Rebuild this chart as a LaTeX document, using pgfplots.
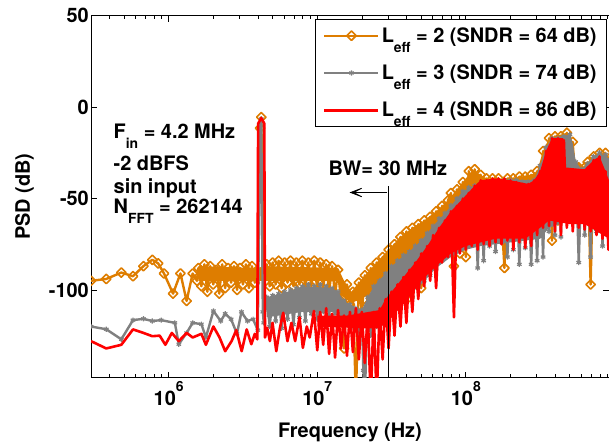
\documentclass[border=0pt]{standalone}
\usepackage{fontspec}
\setmainfont{TeX Gyre Heros}
\usepackage{pgfplots}
\pgfplotsset{compat=1.18}
\usetikzlibrary{arrows.meta}
\definecolor{lor}{RGB}{222,125,0}
\definecolor{lgr}{RGB}{128,128,128}
\newcommand{\fs}{\fontsize{20}{24}\selectfont\bfseries}
\newcommand{\sub}[1]{\raisebox{-0.5em}{\fontsize{14}{14}\selectfont\bfseries #1}}
\newcommand{\ex}[1]{\raisebox{0.7em}{\fontsize{14}{14}\selectfont\bfseries #1}}
\begin{document}
\begin{tikzpicture}
\begin{axis}[
  at={(0,0)}, anchor=south west,
  scale only axis, width=518bp, height=362bp,
  xmode=log, xmin=3.0e5, xmax=9.2e8, ymin=-148, ymax=50,
  clip marker paths=true,
  xtick={1e6,1e7,1e8},
  xticklabels={10\ex{6},10\ex{7},10\ex{8}},
  minor xtick={4e5,5e5,6e5,7e5,8e5,9e5,2e6,3e6,4e6,5e6,6e6,7e6,8e6,9e6,2e7,3e7,4e7,5e7,6e7,7e7,8e7,9e7,2e8,3e8,4e8,5e8,6e8,7e8,8e8,9e8},
  ytick={-100,-50,0,50}, yticklabels={-100,-50,0,50},
  tick align=inside, major tick length=6bp, minor tick length=3.5bp,
  tick style={black, line width=0.8bp},
  axis line style={line width=0.9bp},
  tick label style={font=\fs},
  yticklabel style={inner xsep=2bp},
  xlabel={Frequency (Hz)}, ylabel={PSD (dB)},
  xlabel style={font=\fs, at={(axis description cs:0.5,-0.150)}, anchor=center},
  ylabel style={font=\fs, at={(axis description cs:-0.1284,0.5)}, anchor=center},
  legend style={at={(1,1)}, anchor=north east, xshift=-2bp, yshift=-3.5bp,
    draw=black, line width=0.8bp, font=\fs, inner xsep=8bp, inner ysep=6bp,
    row sep=17bp, cells={anchor=west}},
  legend image code/.code={\draw[mark repeat=2,mark phase=2,#1] plot coordinates {(0bp,0bp) (27bp,0bp) (54bp,0bp)};},
]
% orange body
\addplot[forget plot, fill=lor, draw=none] coordinates {
(1.585e6,-87) (3.981e6,-88) (4.365e6,-87) (1.380e7,-88) (1.514e7,-95) (1.698e7,-101) (1.905e7,-96) (2.089e7,-92) (2.512e7,-85) (3.020e7,-78) (3.631e7,-71) (4.365e7,-66) (5.248e7,-62) (6.310e7,-57) (7.586e7,-51) (8.710e7,-45) (9.550e7,-41) (1.096e8,-35) (1.202e8,-36) (1.380e8,-39) (1.995e8,-39) (2.754e8,-37) (3.020e8,-35) (3.311e8,-24) (3.631e8,-17) (4.786e8,-14) (5.248e8,-19) (5.495e8,-30) (6.310e8,-33) (6.918e8,-28) (7.943e8,-25) (9.2e8,-27)
(9.2e8,-50) (6.918e8,-50) (5.754e8,-50) (5.248e8,-40) (3.631e8,-40) (3.162e8,-50) (1.0e8,-55) (7.943e7,-65) (6.310e7,-72) (5.012e7,-80) (3.981e7,-85) (3.162e7,-92) (2.512e7,-99) (1.995e7,-105) (1.698e7,-107) (1.445e7,-103) (1.380e7,-95) (4.365e6,-95) (3.981e6,-95) (1.585e6,-95)
} -- cycle;
\addplot[color=lor, line width=2.4bp, line join=round, mark=square, mark size=3.3bp,
  mark options={rotate=45, solid, line width=1.6bp, fill=none}] coordinates {
(3.0e5,-95) (3.8e5,-94) (4.8e5,-90.5) (5.75e5,-92.5) (6.76e5,-87) (7.76e5,-83.5) (8.5e5,-85.5) (9.3e5,-91) (1.07e6,-102) (1.2e6,-91) (1.32e6,-106) (1.45e6,-91) (1.55e6,-95)
(1.585e6,-88) (1.660e6,-98) (1.738e6,-86) (1.820e6,-101) (1.905e6,-87) (1.995e6,-97) (2.089e6,-89) (2.188e6,-102) (2.291e6,-86) (2.399e6,-99) (2.512e6,-88) (2.630e6,-96) (2.754e6,-87) (2.884e6,-100) (3.020e6,-88) (3.162e6,-97) (3.311e6,-86) (3.467e6,-99) (3.631e6,-87) (3.802e6,-96) (3.981e6,-90)
(4.12e6,-11.5) (4.2e6,-5.5) (4.365e6,-92)
(4.571e6,-86) (4.786e6,-98) (5.012e6,-85) (5.248e6,-97) (5.495e6,-84) (5.754e6,-99) (6.026e6,-85) (6.310e6,-96) (6.607e6,-84) (6.918e6,-98) (7.244e6,-85) (7.586e6,-97) (7.943e6,-84) (8.318e6,-99) (8.710e6,-85) (9.120e6,-98) (9.550e6,-84)
(1.0e7,-100) (1.047e7,-85) (1.096e7,-99) (1.148e7,-86) (1.202e7,-101) (1.259e7,-87) (1.318e7,-103) (1.380e7,-89) (1.445e7,-106) (1.514e7,-132) (1.585e7,-97) (1.660e7,-108) (1.738e7,-101) (1.820e7,-160) (1.905e7,-96) (1.995e7,-112) (2.089e7,-92) (2.188e7,-108) (2.291e7,-88) (2.399e7,-104) (2.512e7,-85) (2.630e7,-100) (2.754e7,-82) (2.884e7,-98) (3.020e7,-78) (3.162e7,-95) (3.311e7,-75) (3.467e7,-92) (3.631e7,-71) (3.802e7,-88) (3.981e7,-68) (4.169e7,-104) (4.365e7,-66) (4.571e7,-85) (4.786e7,-64) (5.012e7,-99) (5.248e7,-62) (5.495e7,-80) (5.754e7,-60) (6.026e7,-78) (6.310e7,-57) (6.607e7,-75) (6.918e7,-54) (7.244e7,-72) (7.586e7,-51) (7.943e7,-47) (8.318e7,-87) (8.710e7,-45) (9.120e7,-80) (9.550e7,-41)
(1.0e8,-82) (1.047e8,-35) (1.096e8,-62) (1.148e8,-34) (1.202e8,-60) (1.259e8,-37) (1.318e8,-58) (1.380e8,-39) (1.445e8,-60) (1.514e8,-39) (1.585e8,-58) (1.660e8,-39) (1.738e8,-60) (1.820e8,-88) (1.905e8,-39) (1.995e8,-60) (2.089e8,-39) (2.188e8,-62) (2.291e8,-38) (2.399e8,-60) (2.512e8,-38) (2.630e8,-62) (2.754e8,-37) (2.884e8,-60) (3.020e8,-35) (3.162e8,-55) (3.311e8,-24) (3.467e8,-50) (3.631e8,-17) (3.802e8,-73) (3.981e8,-16) (4.169e8,-62) (4.365e8,-16) (4.571e8,-40) (4.786e8,-14) (5.012e8,-40) (5.248e8,-19) (5.495e8,-55) (5.754e8,-33) (6.026e8,-60) (6.310e8,-33) (6.607e8,-30) (6.918e8,-97) (7.244e8,-27) (7.586e8,-55) (7.943e8,-25) (8.318e8,-55) (8.710e8,-25) (9.120e8,-58) (9.550e8,-28)
};
\addlegendentry{L\sub{eff} = 2 (SNDR = 64 dB)}
% gray body
\addplot[forget plot, fill=lgr, draw=none] coordinates {
(4.571e6,-104) (6.310e6,-101) (7.943e6,-98) (1.259e7,-99) (1.380e7,-101) (1.514e7,-106) (1.660e7,-108) (1.995e7,-111) (2.188e7,-104) (2.399e7,-98) (2.884e7,-91) (3.467e7,-84) (4.169e7,-79) (5.012e7,-73) (6.026e7,-65) (7.244e7,-58) (8.710e7,-50) (9.550e7,-46) (1.148e8,-43) (1.380e8,-41) (1.995e8,-40) (2.884e8,-40) (3.162e8,-32) (3.467e8,-22) (3.802e8,-17) (5.012e8,-15) (5.248e8,-20) (5.495e8,-30) (6.026e8,-34) (7.244e8,-27) (7.943e8,-25) (9.2e8,-28)
(9.2e8,-65) (5.012e8,-62) (3.631e8,-66) (3.162e8,-72) (1.259e8,-76) (1.0e8,-78) (7.943e7,-82) (6.310e7,-88) (5.012e7,-97) (3.981e7,-104) (3.162e7,-112) (2.512e7,-117) (1.995e7,-119) (1.585e7,-115) (1.259e7,-112) (7.943e6,-112) (4.571e6,-115)
} -- cycle;
\addplot[color=lgr, line width=2.4bp, line join=round, mark=asterisk, mark size=2.6bp,
  mark options={solid, line width=1.2bp}] coordinates {
(3.0e5,-120) (3.8e5,-121.5) (4.8e5,-127) (5.75e5,-116.5) (6.76e5,-115.8) (7.76e5,-117) (8.9e5,-116.5) (1.1e6,-118) (1.17e6,-129.7) (1.32e6,-123.5) (1.45e6,-118) (1.66e6,-118.7) (1.78e6,-126) (2.0e6,-111.5) (2.24e6,-117) (2.4e6,-113) (2.63e6,-116) (2.88e6,-124) (3.09e6,-112) (3.39e6,-117) (3.7e6,-116) (3.98e6,-122)
(4.12e6,-10) (4.2e6,-6.5) (4.3e6,-112)
(4.365e6,-118) (4.571e6,-104) (4.786e6,-120) (5.012e6,-103) (5.248e6,-117) (5.495e6,-102) (5.754e6,-121) (6.026e6,-101) (6.310e6,-116) (6.607e6,-100) (6.918e6,-119) (7.244e6,-99) (7.586e6,-115) (7.943e6,-98) (8.318e6,-117) (8.710e6,-97) (9.120e6,-113) (9.550e6,-98)
(1.0e7,-116) (1.047e7,-97) (1.096e7,-112) (1.148e7,-98) (1.202e7,-114) (1.259e7,-99) (1.318e7,-113) (1.380e7,-101) (1.445e7,-115) (1.514e7,-106) (1.585e7,-118) (1.660e7,-108) (1.738e7,-120) (1.820e7,-110) (1.905e7,-125) (1.995e7,-111) (2.042e7,-144) (2.089e7,-160) (2.188e7,-104) (2.291e7,-125) (2.399e7,-98) (2.512e7,-120) (2.630e7,-95) (2.754e7,-118) (2.884e7,-91) (3.020e7,-121) (3.162e7,-87) (3.311e7,-112) (3.467e7,-84) (3.631e7,-110) (3.802e7,-81) (3.981e7,-100) (4.169e7,-79) (4.365e7,-104) (4.571e7,-76) (4.786e7,-98) (5.012e7,-73) (5.248e7,-95) (5.495e7,-69) (5.754e7,-92) (6.026e7,-65) (6.310e7,-88) (6.607e7,-61) (6.918e7,-84) (7.244e7,-58) (7.586e7,-80) (7.943e7,-54) (8.318e7,-78) (8.710e7,-50) (9.120e7,-75) (9.550e7,-46)
(1.0e8,-72) (1.047e8,-44) (1.096e8,-75) (1.148e8,-43) (1.202e8,-88) (1.259e8,-42) (1.318e8,-84) (1.380e8,-41) (1.445e8,-76) (1.514e8,-41) (1.585e8,-79) (1.660e8,-41) (1.738e8,-74) (1.820e8,-40) (1.905e8,-82) (1.995e8,-40) (2.089e8,-78) (2.188e8,-40) (2.291e8,-86) (2.399e8,-41) (2.512e8,-77) (2.630e8,-41) (2.754e8,-86) (2.884e8,-40) (3.020e8,-84) (3.162e8,-32) (3.311e8,-82) (3.467e8,-22) (3.631e8,-68) (3.802e8,-17) (3.981e8,-70) (4.169e8,-17) (4.365e8,-71) (4.571e8,-16) (4.786e8,-60) (5.012e8,-15) (5.248e8,-62) (5.495e8,-30) (5.754e8,-85) (6.026e8,-34) (6.310e8,-70) (6.607e8,-31) (6.918e8,-82) (7.244e8,-27) (7.586e8,-68) (7.943e8,-25) (8.318e8,-76) (8.710e8,-26) (9.120e8,-70) (9.550e8,-28)
};
\addlegendentry{L\sub{eff} = 3 (SNDR = 74 dB)}
% red body
\addplot[forget plot, fill=red, draw=none] coordinates {
(1.0e7,-114) (1.585e7,-114) (2.630e7,-111) (2.884e7,-105) (3.162e7,-101) (3.802e7,-93) (4.571e7,-85) (5.495e7,-76) (6.607e7,-66) (7.943e7,-57) (9.550e7,-50) (1.148e8,-43) (1.259e8,-40) (1.585e8,-39) (1.995e8,-40) (2.630e8,-42) (2.884e8,-40) (3.162e8,-35) (3.467e8,-24) (3.802e8,-17) (4.519e8,-17) (4.677e8,-33) (6.310e8,-34) (7.244e8,-29) (7.943e8,-27) (8.511e8,-33) (9.2e8,-40)
(9.2e8,-72) (6.310e8,-64) (5.012e8,-64) (3.631e8,-62) (3.162e8,-66) (2.512e8,-72) (1.585e8,-72) (1.259e8,-74) (1.0e8,-76) (7.943e7,-80) (6.310e7,-87) (5.012e7,-95) (3.981e7,-106) (3.162e7,-115) (2.630e7,-121) (1.995e7,-121) (1.0e7,-120)
} -- cycle;
\addplot[color=red, line width=2.6bp, line join=round, no markers] coordinates {
(3.0e5,-128) (3.8e5,-132) (4.8e5,-130) (5.75e5,-121.6) (6.76e5,-123.5) (7.76e5,-125.3) (8.7e5,-125) (9.5e5,-130) (1.05e6,-123.5) (1.17e6,-128) (1.32e6,-123.5) (1.45e6,-126)
(1.66e6,-124) (1.78e6,-130) (2.0e6,-120) (2.2e6,-126) (2.4e6,-133.5) (2.65e6,-128) (2.85e6,-122) (3.1e6,-133.5) (3.35e6,-121.6) (3.6e6,-129.7) (3.8e6,-124) (3.95e6,-127)
(4.0e6,-9) (4.2e6,-6) (4.4e6,-9) (4.45e6,-126)
(4.6e6,-120.7) (4.8e6,-128) (5.0e6,-118) (5.3e6,-133.5) (5.6e6,-121) (5.9e6,-112.5) (6.3e6,-128) (6.7e6,-118) (7.1e6,-128) (7.6e6,-115) (8.0e6,-131.7) (8.5e6,-120) (8.9e6,-126) (9.5e6,-111.5)
(1.0e7,-133) (1.047e7,-112) (1.096e7,-130) (1.148e7,-110) (1.202e7,-135) (1.259e7,-113) (1.318e7,-137) (1.380e7,-111) (1.445e7,-132) (1.514e7,-114) (1.585e7,-136) (1.660e7,-112) (1.738e7,-134) (1.820e7,-110) (1.905e7,-138) (1.995e7,-112) (2.089e7,-140) (2.188e7,-113) (2.291e7,-160) (2.399e7,-112) (2.512e7,-160) (2.630e7,-110) (2.754e7,-138) (2.884e7,-105) (3.020e7,-132) (3.162e7,-101) (3.311e7,-125) (3.467e7,-97) (3.631e7,-120) (3.802e7,-93) (3.981e7,-118) (4.169e7,-89) (4.365e7,-112) (4.571e7,-85) (4.786e7,-105) (5.012e7,-80) (5.248e7,-98) (5.495e7,-76) (5.754e7,-95) (6.026e7,-70) (6.310e7,-99) (6.607e7,-66) (6.918e7,-85) (7.244e7,-62) (7.586e7,-82) (7.943e7,-57) (8.318e7,-115) (8.710e7,-54) (9.120e7,-80) (9.550e7,-50)
(1.0e8,-78) (1.047e8,-47) (1.096e8,-76) (1.148e8,-43) (1.202e8,-78) (1.259e8,-40) (1.318e8,-75) (1.380e8,-40) (1.445e8,-76) (1.514e8,-39) (1.585e8,-74) (1.660e8,-39) (1.738e8,-75) (1.820e8,-39) (1.905e8,-73) (1.995e8,-40) (2.089e8,-78) (2.188e8,-41) (2.291e8,-74) (2.399e8,-42) (2.512e8,-77) (2.630e8,-42) (2.754e8,-76) (2.884e8,-40) (3.020e8,-70) (3.162e8,-35) (3.311e8,-66) (3.467e8,-24) (3.631e8,-65) (3.802e8,-17) (3.981e8,-68) (4.169e8,-17) (4.365e8,-70) (4.571e8,-18) (4.786e8,-66) (5.012e8,-35) (5.248e8,-68) (5.495e8,-35) (5.754e8,-66) (6.026e8,-35) (6.310e8,-67) (6.607e8,-33) (6.918e8,-68) (7.244e8,-29) (7.586e8,-70) (7.943e8,-27) (8.318e8,-72) (8.710e8,-35) (9.120e8,-78) (9.550e8,-40)
};
\addlegendentry{L\sub{eff} = 4 (SNDR = 86 dB)}
\draw[black, line width=0.5bp] (axis cs:3e7,-148) -- (axis cs:3e7,-42.9);
\draw[black, line width=0.7bp, -{Stealth[length=17bp,width=13bp,inset=12bp]}] (axis cs:2.95e7,-46.7) -- (axis cs:1.65e7,-46.7);
\node[anchor=base west, font=\fs, inner sep=0pt] at (axis cs:1.19e7,-37.4) {BW= 30 MHz};
\node[anchor=base west, font=\fs, inner sep=0pt] at (axis cs:4.25e5,-17) {F\sub{in} = 4.2 MHz};
\node[anchor=base west, font=\fs, inner sep=0pt] at (axis cs:4.25e5,-34.6) {-2 dBFS};
\node[anchor=base west, font=\fs, inner sep=0pt] at (axis cs:4.25e5,-47.3) {sin input};
\node[anchor=base west, font=\fs, inner sep=0pt] at (axis cs:4.25e5,-58.2) {N\sub{FFT} = 262144};
\end{axis}
\pgfresetboundingbox
\useasboundingbox (-91bp,-67.3bp) rectangle (518bp,377.7bp);
\end{tikzpicture}
\end{document}
